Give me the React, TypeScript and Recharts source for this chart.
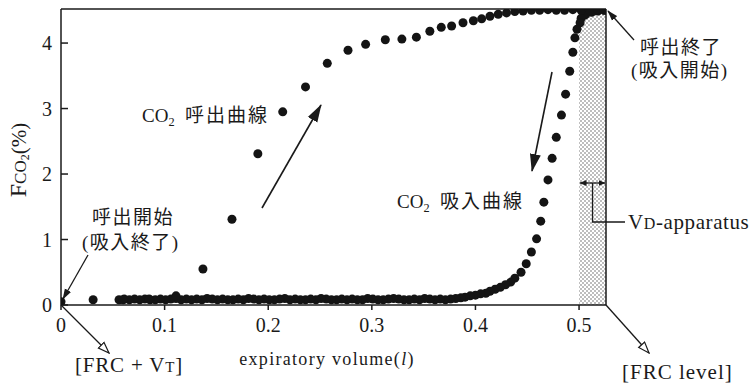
import { ScatterChart, Scatter, XAxis, YAxis, ReferenceArea, ReferenceLine } from "recharts";

// axis ranges / ticks
const xMax = 0.526;
const yMax = 4.52;
const xTicks = [0, 0.1, 0.2, 0.3, 0.4, 0.5];
const yTicks = [0, 1, 2, 3, 4];

// CO2 呼出曲線 (expiration)
const exhaleVolume = [
  0, 0.031, 0.06, 0.085, 0.111, 0.137, 0.165, 0.19, 0.214, 0.236, 0.257, 0.277, 0.294,
  0.313, 0.329, 0.343, 0.356, 0.367, 0.377, 0.388, 0.398, 0.406, 0.414, 0.422, 0.43,
  0.438, 0.446, 0.454, 0.462, 0.47, 0.478, 0.486, 0.494, 0.502, 0.51, 0.518, 0.524,
];
const exhaleFco2 = [
  0.05, 0.08, 0.08, 0.09, 0.14, 0.55, 1.31, 2.31, 2.95, 3.33, 3.69, 3.89, 3.98,
  4.05, 4.06, 4.09, 4.18, 4.24, 4.26, 4.31, 4.34, 4.37, 4.41, 4.44, 4.46,
  4.48, 4.49, 4.5, 4.5, 4.51, 4.5, 4.5, 4.51, 4.5, 4.5, 4.51, 4.5,
];

// CO2 吸入曲線 (inspiration), steep part
const inhaleVolume = [
  0.525, 0.518, 0.512, 0.506, 0.502, 0.501, 0.498, 0.496, 0.494, 0.491, 0.487, 0.483,
  0.478, 0.474, 0.47, 0.466, 0.463, 0.459, 0.454, 0.449, 0.444, 0.438, 0.434, 0.429,
  0.424, 0.419, 0.414, 0.41, 0.405, 0.4, 0.395, 0.39, 0.386,
];
const inhaleFco2 = [
  4.5, 4.49, 4.47, 4.43, 4.38, 4.31, 4.21, 4.08, 3.86, 3.57, 3.22, 2.9,
  2.56, 2.24, 1.91, 1.57, 1.28, 1.01, 0.81, 0.63, 0.5, 0.41, 0.35, 0.31,
  0.27, 0.24, 0.21, 0.18, 0.17, 0.15, 0.14, 0.12, 0.11,
];

// 吸入曲線 tail along the baseline
const baselineVolume = [
  0.381, 0.376, 0.371, 0.366, 0.361, 0.356, 0.351, 0.346, 0.341, 0.336, 0.331, 0.326,
  0.321, 0.316, 0.311, 0.306, 0.301, 0.296, 0.291, 0.286, 0.281, 0.276, 0.271, 0.266,
  0.261, 0.256, 0.251, 0.246, 0.241, 0.236, 0.231, 0.226, 0.221, 0.216, 0.211, 0.206,
  0.201, 0.196, 0.191, 0.186, 0.181, 0.176, 0.171, 0.166, 0.161, 0.156, 0.151, 0.146,
  0.141, 0.136, 0.131, 0.126, 0.121, 0.116, 0.111, 0.106, 0.101, 0.096, 0.091, 0.086,
  0.081, 0.076, 0.071, 0.066, 0.061, 0.056,
];
const baselineFco2 = [
  0.1, 0.09, 0.08, 0.09, 0.08, 0.09, 0.1, 0.08, 0.09, 0.08, 0.08, 0.09,
  0.1, 0.09, 0.08, 0.08, 0.09, 0.1, 0.08, 0.08, 0.09, 0.08, 0.09, 0.08,
  0.08, 0.09, 0.1, 0.08, 0.09, 0.08, 0.08, 0.09, 0.08, 0.1, 0.09, 0.08,
  0.08, 0.09, 0.08, 0.09, 0.1, 0.08, 0.09, 0.08, 0.08, 0.09, 0.08, 0.09,
  0.1, 0.08, 0.09, 0.08, 0.09, 0.08, 0.1, 0.09, 0.08, 0.09, 0.08, 0.08,
  0.09, 0.08, 0.09, 0.08, 0.09, 0.08,
];

const exhaleData = exhaleVolume.map((v, i) => ({ v, f: exhaleFco2[i] }));
const inhaleData = inhaleVolume
  .map((v, i) => ({ v, f: inhaleFco2[i] }))
  .concat(baselineVolume.map((v, i) => ({ v, f: baselineFco2[i] })));

const ink = "#1a1a1a";
const serif = "'Liberation Serif', 'DejaVu Serif', serif";
const mixed = "'Liberation Serif', 'Noto Sans CJK JP', serif";

const Dot = (p: any) => <circle cx={p.cx} cy={p.cy} r={4.5} fill="#141414" />;

// dead-space band, with the VD-apparatus bracket drawn on top of it
const DeadSpace = (p: any) => {
  const yArrow = p.y + 174;
  const xMid = p.x + p.width / 2;
  return (
    <g>
      <defs>
        <pattern id="stipple" width="4" height="4" patternUnits="userSpaceOnUse">
          <rect width="4" height="4" fill="#fff" />
          <circle cx="1" cy="1" r="0.8" fill="#6a6a6a" />
          <circle cx="3" cy="3" r="0.8" fill="#6a6a6a" />
        </pattern>
        <marker id="headSmall" markerWidth="7" markerHeight="6" refX="6.5" refY="3" orient="auto-start-reverse" markerUnits="userSpaceOnUse">
          <path d="M0,0 L7,3 L0,6 z" fill={ink} />
        </marker>
      </defs>
      <rect x={p.x} y={p.y} width={p.width} height={p.height} fill="url(#stipple)" />
      <line x1={p.x + 1} y1={yArrow} x2={p.x + p.width - 1} y2={yArrow} stroke={ink} strokeWidth={1.3}
        markerStart="url(#headSmall)" markerEnd="url(#headSmall)" />
      <path d={`M${xMid},${yArrow} V${yArrow + 39} H${p.x + p.width + 19}`} fill="none" stroke={ink} strokeWidth={1.3} />
    </g>
  );
};

function Co2({ x, y, size }: { x: number; y: number; size: number }) {
  return (
    <text x={x} y={y} fontFamily={mixed} fontSize={size} fill={ink}>
      CO<tspan fontSize={size * 0.65} dy={4}>2</tspan>
    </text>
  );
}

function Annotations() {
  return (
    <g>
      <defs>
        <marker id="headBig" markerWidth="18" markerHeight="12" refX="17" refY="6" orient="auto" markerUnits="userSpaceOnUse">
          <path d="M0,0.5 L18,6 L0,11.5 z" fill={ink} />
        </marker>
        <marker id="headFill" markerWidth="11" markerHeight="8" refX="10" refY="4" orient="auto" markerUnits="userSpaceOnUse">
          <path d="M0,0.5 L11,4 L0,7.5 z" fill={ink} />
        </marker>
        <marker id="headOpen" markerWidth="13" markerHeight="10" refX="12" refY="5" orient="auto" markerUnits="userSpaceOnUse">
          <path d="M1,1 L12,5 L1,9 z" fill="#fff" stroke={ink} strokeWidth="1.2" />
        </marker>
      </defs>

      {/* trend arrows */}
      <line x1={262} y1={208} x2={321} y2={105} stroke={ink} strokeWidth={1.6} markerEnd="url(#headBig)" />
      <line x1={552} y1={72} x2={532} y2={171} stroke={ink} strokeWidth={1.6} markerEnd="url(#headBig)" />

      {/* start / end pointers */}
      <line x1={88} y1={255} x2={63} y2={299} stroke={ink} strokeWidth={1.3} markerEnd="url(#headFill)" />
      <line x1={634} y1={40} x2={608} y2={11} stroke={ink} strokeWidth={1.3} markerEnd="url(#headFill)" />
      <line x1={61} y1={305} x2={109} y2={353} stroke={ink} strokeWidth={1.3} markerEnd="url(#headOpen)" />
      <line x1={606} y1={305} x2={649} y2={353} stroke={ink} strokeWidth={1.3} markerEnd="url(#headOpen)" />

      <Co2 x={142} y={122} size={19} />
      <text x={185} y={122} fontFamily={mixed} fontSize={19} letterSpacing={2} fill={ink}>呼出曲線</text>

      <Co2 x={397} y={208} size={19} />
      <text x={440} y={208} fontFamily={mixed} fontSize={19} letterSpacing={2} fill={ink}>吸入曲線</text>

      <text x={92} y={224} fontFamily={mixed} fontSize={19} letterSpacing={1.5} fill={ink}>呼出開始</text>
      <text x={82} y={249} fontFamily={mixed} fontSize={19} letterSpacing={1.5} fill={ink}>(吸入終了)</text>

      <text x={640} y={54} fontFamily={mixed} fontSize={19} letterSpacing={1.5} fill={ink}>呼出終了</text>
      <text x={631} y={77} fontFamily={mixed} fontSize={19} letterSpacing={1.5} fill={ink}>(吸入開始)</text>

      <text x={628} y={229} fontFamily={serif} fontSize={21} letterSpacing={0.6} fill={ink}>
        V<tspan fontSize={16}>D</tspan>-apparatus
      </text>

      <text x={75} y={372} fontFamily={serif} fontSize={21} letterSpacing={0.8} fill={ink}>
        [FRC + V<tspan fontSize={15}>T</tspan>]
      </text>
      <text x={622} y={379} fontFamily={serif} fontSize={21} letterSpacing={1} fill={ink}>[FRC level]</text>

      <text x={327} y={365} textAnchor="middle" fontFamily={serif} fontSize={18} letterSpacing={1.3} fill={ink}>
        expiratory volume(<tspan fontStyle="italic">l</tspan>)
      </text>

      <text transform="translate(26,160) rotate(-90)" textAnchor="middle" fontFamily={serif} fill={ink}>
        <tspan fontSize={24}>F</tspan>
        <tspan fontSize={17}>CO</tspan>
        <tspan fontSize={12} dy={3}>2</tspan>
        <tspan fontSize={21} dy={-3}>(%)</tspan>
      </text>
    </g>
  );
}

export default function App() {
  return (
    <div style={{ position: "absolute", left: 0, top: 0, width: 756, height: 387, background: "#fff" }}>
      <ScatterChart width={756} height={387} margin={{ top: 9, right: 150, bottom: 52, left: 11 }}>
        <XAxis
          dataKey="v"
          type="number"
          domain={[0, xMax]}
          ticks={xTicks}
          allowDataOverflow
          height={30}
          stroke={ink}
          strokeWidth={1.5}
          tickSize={5}
          tickMargin={8}
          tick={{ fill: ink, fontSize: 20, fontFamily: serif }}
        />
        <YAxis
          dataKey="f"
          type="number"
          domain={[0, yMax]}
          ticks={yTicks}
          allowDataOverflow
          width={50}
          stroke={ink}
          strokeWidth={1.5}
          tickSize={-7}
          tickMargin={16}
          tick={{ fill: ink, fontSize: 20, fontFamily: serif }}
        />
        <ReferenceArea x1={0.5} x2={xMax} y1={0} y2={yMax} shape={DeadSpace} />
        <ReferenceLine y={yMax} stroke={ink} strokeWidth={1.5} />
        <ReferenceLine x={xMax} stroke={ink} strokeWidth={1.5} />
        <Scatter data={inhaleData} shape={Dot} isAnimationActive={false} />
        <Scatter data={exhaleData} shape={Dot} isAnimationActive={false} />
        <Annotations />
      </ScatterChart>
    </div>
  );
}
